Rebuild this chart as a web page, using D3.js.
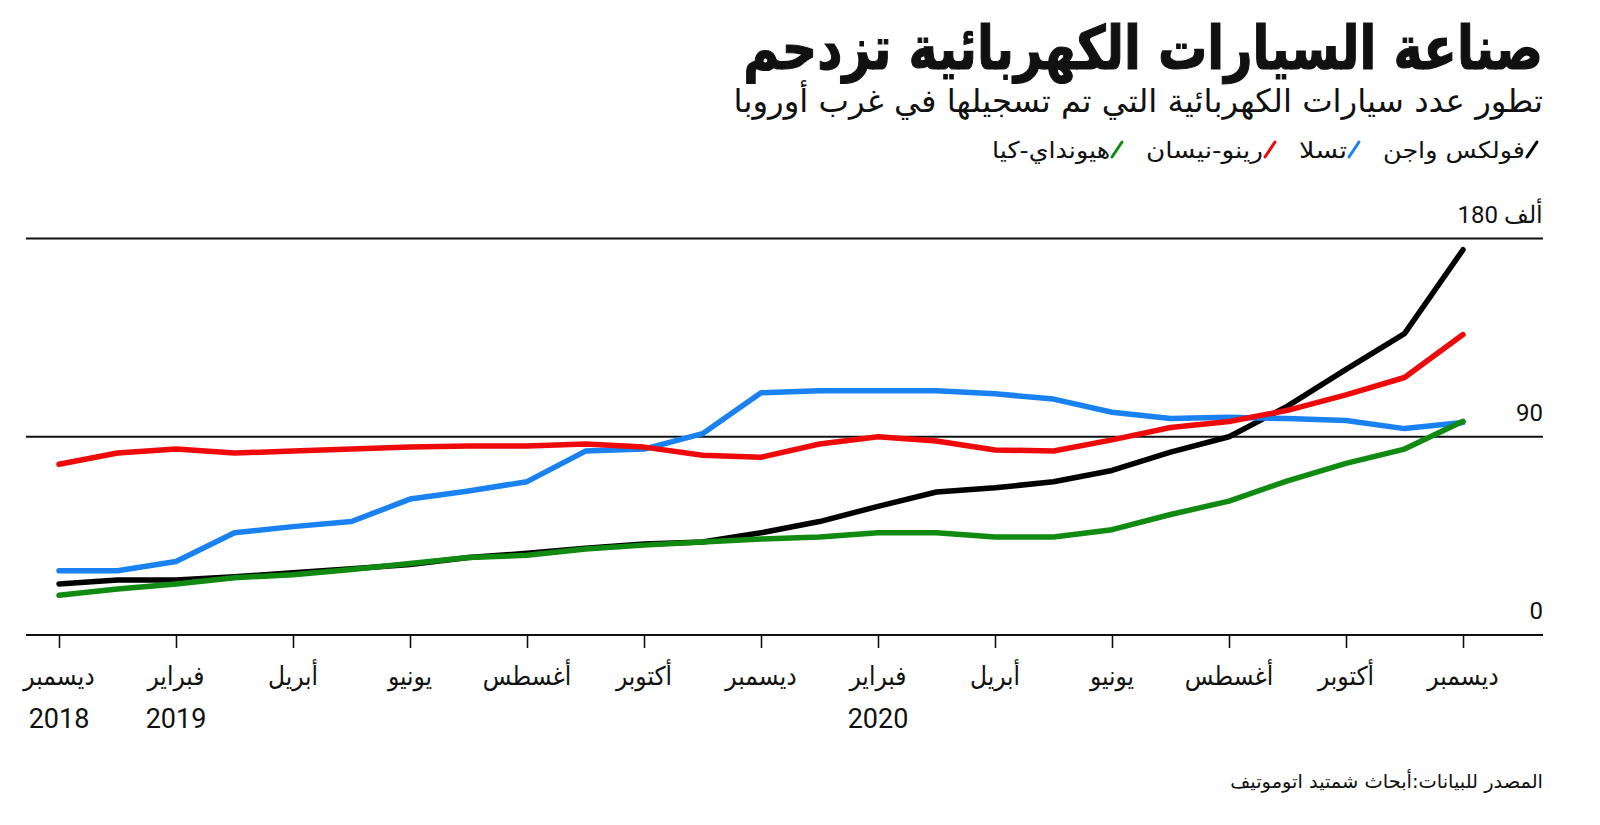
<!DOCTYPE html>
<html lang="ar">
<head>
<meta charset="utf-8">
<script src="https://cdn.jsdelivr.net/npm/d3@7/dist/d3.min.js"></script>
<style>
  html, body { margin: 0; padding: 0; background: #fff; }
  svg { display: block; }
  text { font-family: "DejaVu Sans", "Noto Sans", sans-serif; fill: #111; }
  .num { font-family: Roboto, "Liberation Sans", sans-serif; }
</style>
</head>
<body>
<svg id="chart" width="1600" height="825"></svg>
<script>
// ---------------- data ----------------
const months = ["2018-12","2019-01","2019-02","2019-03","2019-04","2019-05","2019-06","2019-07","2019-08","2019-09","2019-10","2019-11","2019-12",
                "2020-01","2020-02","2020-03","2020-04","2020-05","2020-06","2020-07","2020-08","2020-09","2020-10","2020-11","2020-12"];

const vw      = [23.2,25,25,26.4,28.3,30.1,32,35.2,37.1,39.4,41.3,42.2,46.4,51.5,58.4,64.9,66.8,69.6,74.7,83,90,103.9,120.6,136.8,174.9];
const tesla   = [29.2,29.2,33.4,46.4,49.2,51.5,61.7,65.4,69.6,83.5,84.4,91.4,110,110.9,110.9,110.9,109.5,107.1,101.1,98.3,98.8,98.3,97.4,93.7,96.5];
const renault = [77.5,82.6,84.4,82.6,83.5,84.4,85.3,85.8,85.8,86.7,85.3,81.6,80.7,86.7,90,88.1,84,83.5,88.6,94.2,96.9,102,109,116.9,136.4];
const hyundai = [18,20.9,23.2,26,27.4,29.7,32.5,35.2,36.2,39,40.8,42.2,43.6,44.5,46.4,46.4,44.5,44.5,47.8,54.7,60.8,70,77.9,84.4,97];

const seriesNames = ["فولكس واجن","تسلا","رينو-نيسان","هيونداي-كيا"];
const seriesColors = ["#000000","#1a82f0","#ee0a0a","#118a11"];

const tickMonths = ["2018-12","2019-02","2019-04","2019-06","2019-08","2019-10","2019-12","2020-02","2020-04","2020-06","2020-08","2020-10","2020-12"];
const tickLabels = ["ديسمبر","فبراير","أبريل","يونيو","أغسطس","أكتوبر","ديسمبر","فبراير","أبريل","يونيو","أغسطس","أكتوبر","ديسمبر"];
const yearLabels = ["2018","2019","","","","","","2020","","","","",""];

const yTicks = [0, 90, 180];
const yTickLabels = ["0", "90", "180 ألف"];

const titleText = "صناعة السيارات الكهربائية تزدحم";
const subtitleText = "تطور عدد سيارات الكهربائية التي تم تسجيلها في غرب أوروبا";
const sourceText = "المصدر للبيانات:أبحاث شمتيد اتوموتيف";

// ---------------- layout ----------------
const svg = d3.select("#chart");
const R = 1543, L = 26;
const x = d3.scalePoint().domain(months).range([59, 1463]);
const y = d3.scaleLinear().domain([0, 180]).range([635, 238.5]);

function fitRight(sel, xr, yb, width) {
  sel.attr("text-anchor", "end").attr("x", 0).attr("y", 0);
  const w = sel.node().getComputedTextLength();
  const s = width / w;
  sel.attr("transform", `translate(${xr},${yb}) scale(${s},1)`);
}

// title
const t = svg.append("text").text(titleText)
  .attr("font-size", 60).attr("font-weight", "bold")
  .attr("stroke", "#111").attr("stroke-width", 1.2);
fitRight(t, R, 69, 800);

const st = svg.append("text").text(subtitleText).attr("font-size", 32);
fitRight(st, R, 112, 810);

// legend
const series = [vw, tesla, renault, hyundai];
let cur = 1537;
const legend = svg.append("g");
seriesNames.forEach((name, i) => {
  legend.append("line")
    .attr("x1", cur - 10).attr("y1", 157).attr("x2", cur).attr("y2", 142)
    .attr("stroke", seriesColors[i]).attr("stroke-width", 3).attr("stroke-linecap", "round");
  const lt = legend.append("text").text(name).attr("font-size", 23)
    .attr("text-anchor", "end").attr("x", 0).attr("y", 0);
  const w = lt.node().getComputedTextLength();
  const targetW = [142, 48, 117, 118][i];
  const s = Math.min(1.2, targetW / w);
  lt.attr("transform", `translate(${cur - 12},158) scale(${s},1)`);
  cur = cur - 12 - w * s - 24;
});

// gridlines & y labels
yTicks.forEach((v, i) => {
  svg.append("line")
    .attr("x1", L).attr("x2", R).attr("y1", y(v)).attr("y2", y(v))
    .attr("stroke", "#111").attr("stroke-width", i === 0 ? 2.2 : 1.8);
  svg.append("text").attr("class", "num").text(yTickLabels[i])
    .attr("x", R).attr("y", y(v) - 16).attr("text-anchor", "end")
    .attr("font-size", 24);
});

// x axis ticks
const xAxis = d3.axisBottom(x).tickValues(tickMonths).tickSize(13).tickFormat("");
const gx = svg.append("g").attr("transform", `translate(0,${y(0)})`).call(xAxis);
gx.select(".domain").remove();
gx.selectAll(".tick line").attr("stroke", "#111").attr("stroke-width", 1.6);

tickMonths.forEach((m, i) => {
  const lt = svg.append("text").text(tickLabels[i]).attr("font-size", 26)
    .attr("text-anchor", "middle").attr("x", 0).attr("y", 0);
  lt.attr("transform", `translate(${x(m)},685) scale(0.9,1)`);
  if (yearLabels[i]) {
    svg.append("text").attr("class", "num").text(yearLabels[i])
      .attr("x", x(m)).attr("y", 728).attr("text-anchor", "middle")
      .attr("font-size", 27);
  }
});

// lines
const line = d3.line().x((d, i) => x(months[i])).y(d => y(d)).curve(d3.curveLinear);
series.forEach((s, i) => {
  svg.append("path").datum(s)
    .attr("d", line)
    .attr("fill", "none")
    .attr("stroke", seriesColors[i])
    .attr("stroke-width", 5.5)
    .attr("stroke-linejoin", "round")
    .attr("stroke-linecap", "round");
});

// source
const src = svg.append("text").text(sourceText).attr("font-size", 19);
fitRight(src, R, 788, 313);
</script>
</body>
</html>
